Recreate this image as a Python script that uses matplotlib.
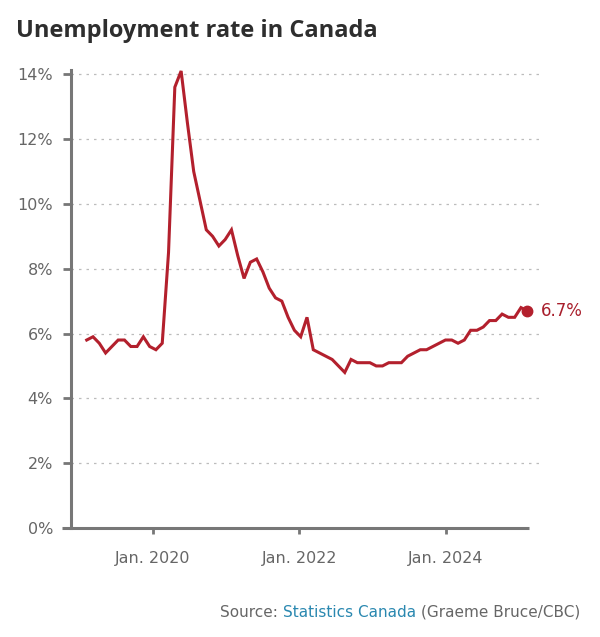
import matplotlib
matplotlib.use("Agg")
import matplotlib.pyplot as plt
import numpy as np
import pandas as pd

# ---- data ----
start_month = "2019-02"
rates = [5.8, 5.9, 5.7, 5.4, 5.6, 5.8, 5.8, 5.6, 5.6, 5.9, 5.6,
         5.5, 5.7, 8.5, 13.6, 14.1, 12.5, 11.0, 10.1, 9.2, 9.0, 8.7, 8.9,
         9.2, 8.4, 7.7, 8.2, 8.3, 7.9, 7.4, 7.1, 7.0, 6.5, 6.1, 5.9,
         6.5, 5.5, 5.4, 5.3, 5.2, 5.0, 4.8, 5.2, 5.1, 5.1, 5.1, 5.0,
         5.0, 5.1, 5.1, 5.1, 5.3, 5.4, 5.5, 5.5, 5.6, 5.7, 5.8, 5.8,
         5.7, 5.8, 6.1, 6.1, 6.2, 6.4, 6.4, 6.6, 6.5, 6.5, 6.8, 6.7]
yticks = [0, 2, 4, 6, 8, 10, 12, 14]
xtick_labels = ["Jan. 2020", "Jan. 2022", "Jan. 2024"]
title = "Unemployment rate in Canada"

months = pd.period_range(start_month, periods=len(rates), freq="M")
x = np.arange(len(months))

# ---- style ----
RED = "#b3202d"
AXC = "#777777"
TXT = "#666666"

fig = plt.figure(figsize=(6.0, 6.37), dpi=100)
ax = fig.add_axes([0.1183, 0.1711, 0.7867, 0.719])

xtick_pos = [10.5, 33.8, 57.1]

ax.set_xlim(-2.5, 72.5)
ax.set_ylim(0, 14.13)

for t in yticks[1:]:
    ax.axhline(t, color="#bcbcbc", lw=0.9, ls=(0, (2, 4)), zorder=1)

ax.plot(x, rates, color=RED, lw=2.2, solid_joinstyle="miter", zorder=3)
ax.plot(x[-1], rates[-1], "o", color=RED, ms=7.5, zorder=4)
ax.annotate(f"{rates[-1]:.1f}%", (x[-1], rates[-1]), xytext=(10, 0),
            textcoords="offset points", va="center", ha="left",
            color="#a81e2b", fontsize=12)

for s in ["top", "right", "bottom"]:
    ax.spines[s].set_visible(False)
ax.spines["left"].set_color(AXC)
ax.spines["left"].set_linewidth(2.2)

xl = ax.get_xlim()
ax.axhline(0, xmin=-0.02, xmax=(x[-1] + 0.2 - xl[0]) / (xl[1] - xl[0]),
           color=AXC, lw=2.2, clip_on=False, zorder=5, solid_capstyle="butt")

ax.set_yticks(yticks)
ax.set_yticklabels([f"{t}%" for t in yticks])
ax.set_xticks(xtick_pos)
ax.set_xticklabels(xtick_labels)
ax.tick_params(axis="y", length=6, width=2, color=AXC, labelcolor=TXT,
               labelsize=11.5, pad=7)
ax.tick_params(axis="x", length=4.5, width=2, color=AXC, labelcolor=TXT,
               labelsize=11.5, pad=12)

fig.text(0.027, 0.9415, title, fontsize=17, fontweight="bold",
         color="#2e2e2e", family="Open Sans", va="baseline", ha="left")

t3 = fig.text(0.9667, 0.0319, "(Graeme Bruce/CBC)", fontsize=11,
              color=TXT, ha="right", va="baseline")
t2 = ax.annotate("Statistics Canada", xy=(0, 0), xycoords=t3,
                 xytext=(-3, 0), textcoords="offset points",
                 ha="right", va="bottom", fontsize=11, color="#2a88b0")
t1 = ax.annotate("Source:", xy=(0, 0), xycoords=t2,
                 xytext=(-4, 0), textcoords="offset points",
                 ha="right", va="bottom", fontsize=11, color=TXT)

fig.savefig("out.png", dpi=100, facecolor="white")
